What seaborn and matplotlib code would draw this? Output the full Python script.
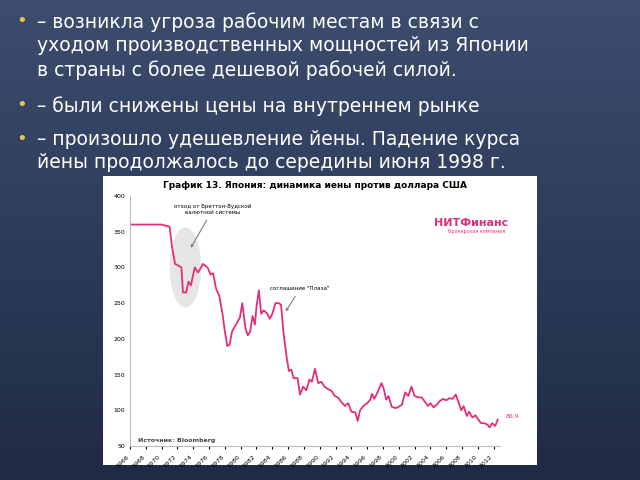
import numpy as np
import pandas as pd
import seaborn as sns
import matplotlib.pyplot as plt
from matplotlib.patches import Ellipse

# курс йены к доллару США (оценка по графику)
years = [1966, 1970, 1971.0, 1971.3, 1971.7, 1972.2, 1972.5, 1972.7, 1973.1, 1973.4, 1973.7,
         1974.2, 1974.6, 1975.0, 1975.2, 1975.8, 1976.2, 1976.5, 1976.9, 1977.3, 1977.7,
         1978.0, 1978.3, 1978.6, 1978.9, 1979.4, 1979.9, 1980.2, 1980.6, 1980.9, 1981.2,
         1981.5, 1981.8, 1982.0, 1982.3, 1982.6, 1982.9, 1983.3, 1983.7, 1984.0, 1984.4,
         1984.8, 1985.1, 1985.4, 1985.8, 1986.1, 1986.4, 1986.7, 1987.2, 1987.5, 1987.9,
         1988.3, 1988.7, 1989.0, 1989.4, 1989.8, 1990.2, 1990.6, 1991.0, 1991.5, 1991.9,
         1992.3, 1992.7, 1993.2, 1993.6, 1994.0, 1994.5, 1994.8, 1995.1, 1995.6, 1996.0,
         1996.4, 1996.6, 1996.9, 1997.3, 1997.8, 1998.1, 1998.4, 1998.7, 1999.1, 1999.6,
         2000.0, 2000.4, 2000.8, 2001.2, 2001.6, 2002.0, 2002.5, 2002.9, 2003.3, 2003.7,
         2004.0, 2004.4, 2004.8, 2005.2, 2005.6, 2006.0, 2006.4, 2006.8, 2007.2, 2007.6,
         2007.9, 2008.2, 2008.6, 2008.9, 2009.3, 2009.7, 2010.0, 2010.4, 2010.8, 2011.2,
         2011.5, 2011.8, 2012.2, 2012.5]
yen = [360, 360, 357, 330, 305, 302, 300, 265, 265, 280, 275,
       300, 293, 300, 305, 300, 290, 292, 270, 260, 235,
       210, 190, 192, 210, 220, 230, 250, 215, 205, 210,
       232, 220, 245, 268, 235, 240, 236, 228, 235, 250,
       250, 248, 210, 175, 155, 157, 145, 145, 122, 133,
       128, 143, 140, 158, 138, 140, 133, 130, 127, 120,
       118, 112, 106, 110, 98, 97, 85, 100, 107, 110,
       115, 123, 116, 125, 138, 130, 115, 120, 105, 103,
       105, 108, 125, 120, 133, 120, 118, 118, 112, 106,
       110, 104, 108, 113, 116, 114, 117, 116, 122, 110,
       100, 106, 92, 98, 90, 93, 88, 82, 82, 80,
       76, 82, 78, 87]
tick_years = list(range(1966, 2013, 2))
bullets = [
    "– возникла угроза рабочим местам в связи с\nуходом производственных мощностей из Японии\nв страны с более дешевой рабочей силой.",
    "– были снижены цены на внутреннем рынке",
    "– произошло удешевление йены. Падение курса\nйены продолжалось до середины июня 1998 г.",
]

df = pd.DataFrame({"year": years, "yen": yen})

fig = plt.figure(figsize=(6.4, 4.8), dpi=100)
# фон слайда
bg = fig.add_axes([0, 0, 1, 1])
grad = np.linspace(0, 1, 256).reshape(-1, 1)
bg.imshow(grad, aspect="auto", cmap=sns.blend_palette(["#3d4d6e", "#1f2b45"], as_cmap=True),
          extent=[0, 1, 0, 1])
bg.set_axis_off()

# текст
y_pos = [0.975, 0.800, 0.730]
for txt, yp in zip(bullets, y_pos):
    fig.text(0.025, yp, "•", color="#e8c44a", fontsize=13, va="top")
    fig.text(0.058, yp, txt, color="white", fontsize=13.5, va="top", linespacing=1.32)

# белая подложка графика
panel = fig.add_axes([103 / 640, 15 / 480, 434 / 640, 289 / 480])
panel.set_facecolor("white")
panel.set_xticks([])
panel.set_yticks([])
for s in panel.spines.values():
    s.set_visible(False)

ax = fig.add_axes([130 / 640, 34 / 480, 370 / 640, 250 / 480])
ax.set_facecolor("none")
sns.lineplot(data=df, x="year", y="yen", ax=ax, color="#e0307a", linewidth=1.3)
ax.add_patch(Ellipse((1973.0, 300), 3.8, 110, color="#e6e6e6", zorder=0))
ax.set_xlim(1966, 2012.8)
ax.set_ylim(50, 400)
ax.set_xticks(tick_years)
ax.set_xticklabels(tick_years, rotation=45, fontsize=4.5, ha="right")
ax.set_yticks(range(50, 401, 50))
ax.tick_params(axis="y", labelsize=4.5, length=0)
ax.tick_params(axis="x", length=2)
ax.set_xlabel("")
ax.set_ylabel("")
for s in ["top", "right"]:
    ax.spines[s].set_visible(False)
ax.spines["left"].set_color("#bbbbbb")
ax.spines["bottom"].set_color("#bbbbbb")

ax.set_title("График 13. Япония: динамика иены против доллара США", fontsize=6.5,
             fontweight="bold", pad=6)
ax.annotate("отход от Бреттон-Вудской\nвалютной системы", xy=(1973.5, 324), xytext=(1976.5, 375),
            fontsize=4, ha="center", arrowprops=dict(arrowstyle="->", color="gray", lw=0.8))
ax.annotate("соглашение \"Плаза\"", xy=(1985.5, 235), xytext=(1987.5, 268),
            fontsize=4, ha="center", arrowprops=dict(arrowstyle="->", color="gray", lw=0.8))
ax.text(1967, 55, "Источник: Bloomberg", fontsize=4.5, fontweight="bold", color="#444444")
ax.text(2013.5, 90, "86,9", fontsize=4.5, color="#e0307a")
ax.text(2004.5, 358, "НИТФинанс", fontsize=8, fontweight="bold", color="#e0307a")
ax.text(2006.2, 348, "Брокерская компания", fontsize=3.5, color="#e0307a")

fig.savefig("out.png", dpi=100)
